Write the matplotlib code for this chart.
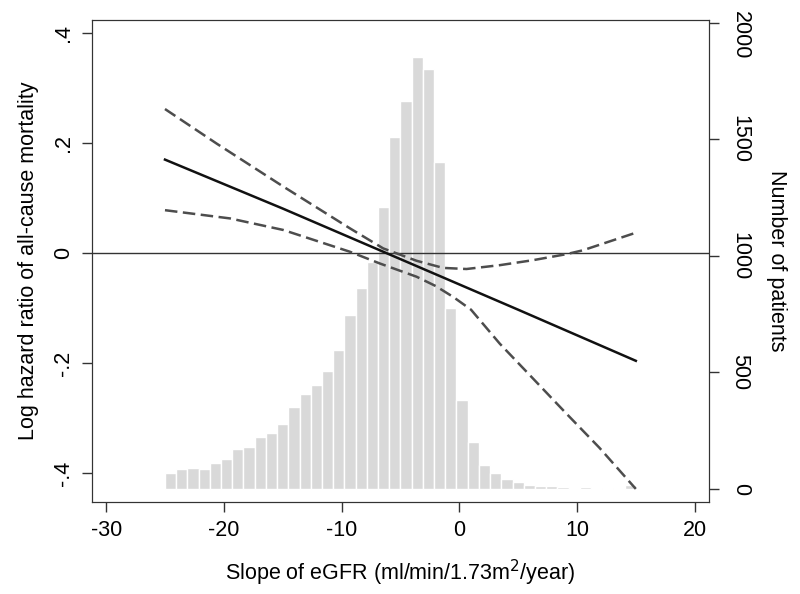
import numpy as np
import matplotlib
matplotlib.use("Agg")
import matplotlib.pyplot as plt
import matplotlib.transforms as mtransforms

plt.rcParams['font.family'] = ['Liberation Sans', 'DejaVu Sans']
plt.rcParams['axes.unicode_minus'] = False

# Histogram (number of patients), 42 bins from -25 to 15
bin_lo, bin_hi = -25, 15
counts = [69, 85, 89, 85, 114, 129, 173, 180, 224, 241, 278, 350, 406, 445,
          505, 597, 745, 864, 974, 1211, 1509, 1665, 1854, 1801, 1401, 775,
          382, 201, 102, 70, 45, 30, 17, 13, 13, 7, 4, 7, 3, 3, 3, 17]

# Estimated log hazard ratio
est_x = [-25, -15, -5, 5, 15]
est_y = [0.170, 0.081, -0.011, -0.103, -0.196]

# Upper confidence limit
up_x = [-25, -20.6, -14.95, -9.29, -6.46, -3.63, -1.37, 0.61, 3.45, 6.25, 9.1, 10.5, 15]
up_y = [0.262, 0.199, 0.121, 0.045, 0.0085, -0.014, -0.027, -0.029, -0.022, -0.013, -0.002, 0.005, 0.037]

# Lower confidence limit
lo_x = [-25, -19.47, -14.95, -9.29, -6.74, -3.63, -2.0, -0.5, 1.0, 3.45, 6.3, 9.1, 11.9, 15]
lo_y = [0.078, 0.063, 0.042, 0.0024, -0.019, -0.043, -0.060, -0.080, -0.103, -0.165, -0.229, -0.292, -0.354, -0.429]

left_ticks = [-0.4, -0.2, 0, 0.2, 0.4]
left_labels = ['-.4', '-.2', '0', '.2', '.4']
right_ticks = [0, 500, 1000, 1500, 2000]
x_ticks = [-30, -20, -10, 0, 10, 20]

FS = 15.5

fig = plt.figure(figsize=(8, 5.94), dpi=100)
ax = fig.add_axes([0.115, 0.155, 0.771, 0.811])
ax2 = ax.twinx()
ax.set_zorder(ax2.get_zorder() + 1)
ax.patch.set_visible(False)

edges = np.linspace(bin_lo, bin_hi, len(counts) + 1)
ax2.bar(edges[:-1], counts, width=np.diff(edges), align='edge',
        color='#d9d9d9', edgecolor='white', linewidth=1.0)

ax.axhline(0, color='#333333', lw=1.0)
ax.plot(up_x, up_y, color='#4d4d4d', lw=1.8, dashes=(5, 2.2))
ax.plot(lo_x, lo_y, color='#4d4d4d', lw=1.8, dashes=(5, 2.2))
ax.plot(est_x, est_y, color='#111111', lw=1.8)

ax.set_xlim(-31.2, 21.2)
ax.set_ylim(-0.4527, 0.4236)
ax2.set_ylim(-55, 2010)

ax.set_xticks(x_ticks)
ax.set_yticks(left_ticks)
ax.set_yticklabels(left_labels, rotation=90, va='center')
ax2.set_yticks(right_ticks)
ax2.set_yticklabels([str(t) for t in right_ticks], rotation=-90, va='center')

for a in (ax, ax2):
    a.tick_params(direction='out', length=7, width=1, labelsize=FS, color='#333333')
    for s in a.spines.values():
        s.set_color('#333333')
ax.tick_params(axis='x', pad=6)
ax.tick_params(axis='y', pad=6)
ax2.tick_params(axis='y', pad=8)

# keep the top right label inside the figure
top_lab = ax2.get_yticklabels()[-1]
top_lab.set_transform(top_lab.get_transform() +
                      mtransforms.ScaledTranslation(0, -9 / 72, fig.dpi_scale_trans))

ax.set_xlabel('Slope of eGFR (ml/min/1.73m$^{2}$/year)', fontsize=FS, labelpad=12)
ax.set_ylabel('Log hazard ratio of all-cause mortality', fontsize=FS, labelpad=10)
ax2.set_ylabel('Number of patients', fontsize=FS, rotation=-90, labelpad=26)

fig.savefig('out.png', dpi=100)
